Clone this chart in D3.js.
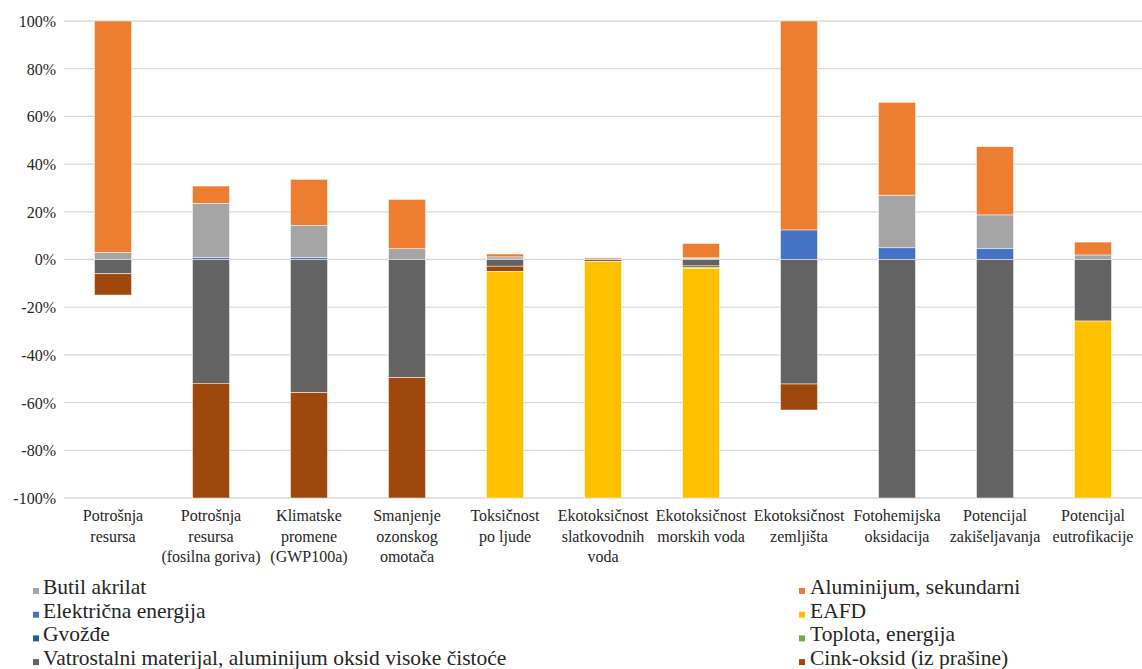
<!DOCTYPE html>
<html>
<head>
<meta charset="utf-8">
<script src="https://cdn.jsdelivr.net/npm/d3@7"></script>
<style>
  html, body { margin: 0; padding: 0; background: #fff; }
  svg { display: block; }
  svg text { font-family: "Liberation Serif", Tinos, "Times New Roman", Times, "DejaVu Serif", serif !important; fill: #262626; }
</style>
</head>
<body>
<svg id="chart" width="1142" height="669"></svg>
<script>
// ---- Data ----
const categories = [
  "Potrošnja resursa",
  "Potrošnja resursa (fosilna goriva)",
  "Klimatske promene (GWP100a)",
  "Smanjenje ozonskog omotača",
  "Toksičnost po ljude",
  "Ekotoksičnost slatkovodnih voda",
  "Ekotoksičnost morskih voda",
  "Ekotoksičnost zemljišta",
  "Fotohemijska oksidacija",
  "Potencijal zakišeljavanja",
  "Potencijal eutrofikacije"
];
const categoryLines = [
  ["Potrošnja", "resursa"],
  ["Potrošnja", "resursa", "(fosilna goriva)"],
  ["Klimatske", "promene", "(GWP100a)"],
  ["Smanjenje", "ozonskog", "omotača"],
  ["Toksičnost", "po ljude"],
  ["Ekotoksičnost", "slatkovodnih", "voda"],
  ["Ekotoksičnost", "morskih voda"],
  ["Ekotoksičnost", "zemljišta"],
  ["Fotohemijska", "oksidacija"],
  ["Potencijal", "zakišeljavanja"],
  ["Potencijal", "eutrofikacije"]
];

// values in percent
const butilAkrilat      = [3.0, 22.8, 13.4, 4.5, 0.9, 0.2, 0.4, 0, 22.1, 14.2, 1.9];
const elektricnaEnergija= [0, 0.8, 0.8, 0, 0.2, 0, 0.3, 12.4, 4.9, 4.5, 0];
const gvozdje           = [0, 0, 0, 0, 0, 0, 0, 0, 0, 0, 0];
const vatrostalni       = [-6.0, -51.9, -55.8, -49.5, -2.8, -0.8, -2.7, -52.2, -100, -100, -25.8];
const aluminijum        = [97.0, 7.2, 19.4, 20.7, 1.2, 0.5, 6.0, 87.6, 38.9, 28.6, 5.4];
const eafd              = [0, 0, 0, 0, -94.9, -99.2, -96.3, 0, 0, 0, -74.2];
const toplota           = [0, 0, 0, 0, 0, 0, -0.4, 0, 0, 0, 0];
const cinkOksid         = [-8.9, -48.1, -44.2, -50.5, -2.3, 0, -0.6, -10.9, 0, 0, 0];

const yTicks = [-100, -80, -60, -40, -20, 0, 20, 40, 60, 80, 100];

const seriesNames = {
  butil: "Butil akrilat",
  elek: "Električna energija",
  gvo: "Gvožđe",
  vat: "Vatrostalni materijal, aluminijum oksid visoke čistoće",
  alu: "Aluminijum, sekundarni",
  eafd: "EAFD",
  top: "Toplota, energija",
  cink: "Cink-oksid (iz prašine)"
};
const colors = {
  butil: "#a5a5a5", elek: "#4472c4", gvo: "#255e91", vat: "#636363",
  alu: "#ed7d31", eafd: "#ffc000", top: "#70ad47", cink: "#9e480e"
};
const seriesValues = {
  butil: butilAkrilat, elek: elektricnaEnergija, gvo: gvozdje, vat: vatrostalni,
  alu: aluminijum, eafd: eafd, top: toplota, cink: cinkOksid
};
// stacking order (positives upward, negatives downward, in this order)
const stackKeys = ["elek", "gvo", "butil", "vat", "cink", "top", "alu", "eafd"];
const legendLeft = ["butil", "elek", "gvo", "vat"];
const legendRight = ["alu", "eafd", "top", "cink"];

// ---- Build table ----
const table = categories.map((c, i) => {
  const row = { category: c };
  stackKeys.forEach(k => row[k] = seriesValues[k][i]);
  return row;
});

const FONT = "'Liberation Serif', Tinos, 'Times New Roman', Times, 'DejaVu Serif', serif";
const svg = d3.select("#chart");
const plotLeft = 64, plotRight = 1142, plotTop = 21, plotBottom = 498;

const x = d3.scaleBand().domain(categories).range([plotLeft, plotRight])
  .paddingInner(0.622).paddingOuter(0.311);
const y = d3.scaleLinear().domain([-100, 100]).range([plotBottom, plotTop]);

// gridlines
svg.append("g").selectAll("line").data(yTicks).join("line")
  .attr("x1", plotLeft).attr("x2", plotRight)
  .attr("y1", d => y(d)).attr("y2", d => y(d))
  .attr("stroke", "#d9d9d9").attr("stroke-width", 1.3);

// y axis labels
const yAxis = d3.axisLeft(y).tickValues(yTicks).tickSize(0).tickPadding(0)
  .tickFormat(d => d + "%");
const gy = svg.append("g").attr("transform", `translate(56,0)`).call(yAxis)
  .attr("font-family", FONT).attr("font-size", 16);
gy.select(".domain").remove();
gy.selectAll("text").attr("font-size", 16).attr("fill", "#262626")
  .attr("font-family", FONT).attr("dy", "0.34em");

// stacked bars
const stacked = d3.stack().keys(stackKeys).offset(d3.stackOffsetDiverging)(table);
svg.append("g").selectAll("g").data(stacked).join("g")
  .attr("fill", d => colors[d.key])
  .selectAll("rect")
  .data(d => d.filter(s => s[1] !== s[0]))
  .join("rect")
  .attr("x", d => x(d.data.category))
  .attr("width", x.bandwidth())
  .attr("y", d => y(Math.max(d[0], d[1])))
  .attr("height", d => Math.abs(y(d[0]) - y(d[1])))
  .attr("stroke", "#ffffff").attr("stroke-width", 0.5);

// x labels
const xl = svg.append("g").attr("font-family", FONT);
categories.forEach((c, i) => {
  const cx = x(c) + x.bandwidth() / 2;
  const t = xl.append("text").attr("text-anchor", "middle").attr("font-size", 16)
    .attr("font-family", FONT)
    .attr("x", cx).attr("y", 521);
  categoryLines[i].forEach((line, j) => {
    t.append("tspan").attr("x", cx).attr("dy", j === 0 ? 0 : 20.5).text(line);
  });
});

// legend
function drawLegend(keys, mx, tx) {
  const g = svg.append("g");
  keys.forEach((k, i) => {
    const by = 594 + i * 23.7;
    g.append("rect").attr("x", mx).attr("y", by - 6).attr("width", 6).attr("height", 6)
      .attr("fill", colors[k]);
    g.append("text").attr("x", tx).attr("y", by).attr("font-size", 21.5)
      .attr("font-family", FONT)
      .text(seriesNames[k]);
  });
}
drawLegend(legendLeft, 33, 43);
drawLegend(legendRight, 799, 810);
</script>
</body>
</html>
